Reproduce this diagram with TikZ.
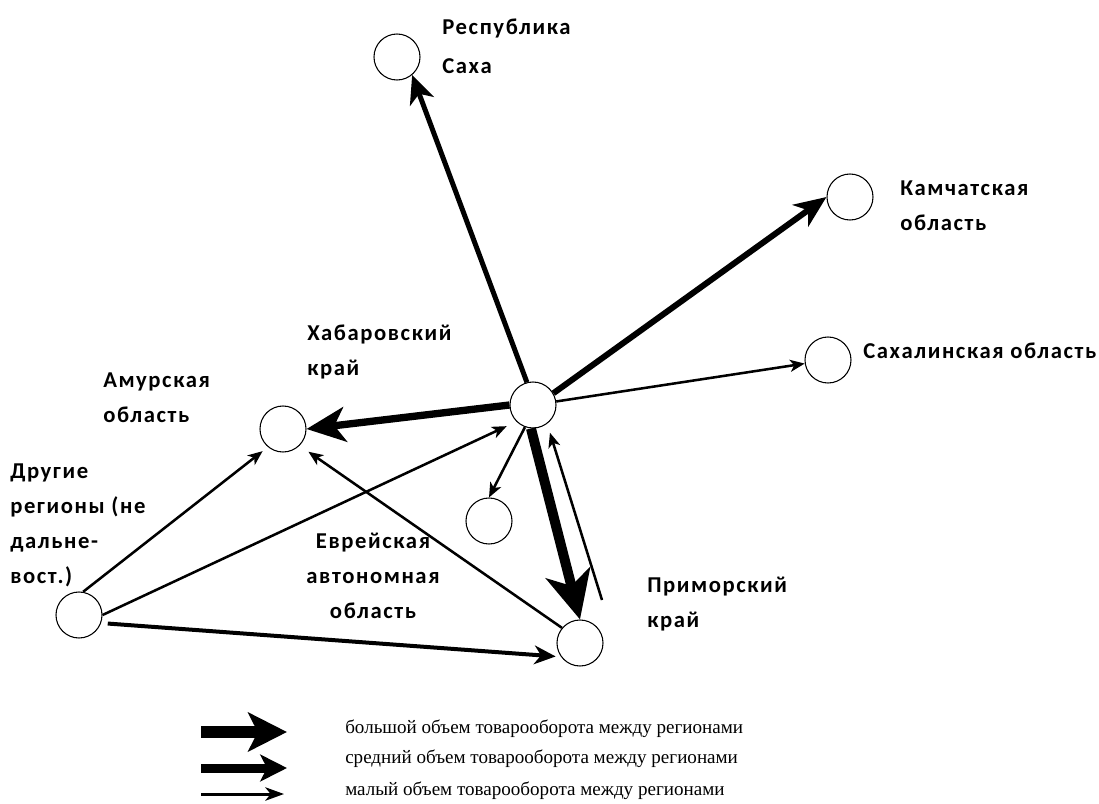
\documentclass[tikz,border=0pt]{standalone}
\usepackage{fontspec}
\setmainfont{Liberation Serif}
\newfontfamily\lblfont[LetterSpace=7]{Carlito}
\usetikzlibrary{arrows.meta,calc}
\begin{document}
\begin{tikzpicture}[x=0.75pt,y=-0.75pt,
  region/.style={circle,draw,line width=0.8pt,minimum size=34.5pt,inner sep=0pt},
  lbl/.style={font=\lblfont\bfseries\fontsize{17}{26.25}\selectfont,align=left,anchor=base west,inner sep=0pt},
  leg/.style={font=\fontsize{14.3}{20}\selectfont,anchor=base west,inner sep=0pt},
  smallflow/.style={line width=1.9pt,-{Stealth[length=11pt,width=9pt,inset=3pt]}},
  midflow/.style={line width=3pt,-{Stealth[length=16pt,width=14pt,inset=5pt]}},
  sahaflow/.style={line width=3.75pt,-{Stealth[length=21pt,width=19pt,inset=6pt]}},
  kamflow/.style={line width=4.5pt,-{Stealth[length=24pt,width=20pt,inset=7pt]}},
  amurflow/.style={line width=5.5pt,-{Stealth[length=29pt,width=26pt,inset=8pt]}},
  primflow/.style={line width=7.5pt,-{Stealth[length=36pt,width=34pt,inset=10pt]}},
  legbig/.style={line width=9pt,-{Stealth[length=29pt,width=29pt,inset=7pt]}},
  legmid/.style={line width=6.75pt,-{Stealth[length=20pt,width=20pt,inset=5pt]}},
  legsmall/.style={line width=2.25pt,-{Stealth[length=14pt,width=10pt,inset=4pt]}}
]
\useasboundingbox (0,0) rectangle (1099,803);
% regions
\node[region] (saha) at (397,57) {};
\node[region] (kam)  at (850,197) {};
\node[region] (sakh) at (828,360) {};
\node[region] (hub)  at (533,405) {};
\node[region] (amur) at (283,429) {};
\node[region] (evr)  at (489,521) {};
\node[region] (prim) at (580,643) {};
\node[region] (oth)  at (79,615) {};
% labels (base anchor = baseline of last line)
\node[lbl,font=\lblfont\bfseries\fontsize{17}{29.25}\selectfont] (lsaha) at (442,73) {Республика\\Саха};
\node[lbl] (lkam) at (900,230) {Камчатская\\область};
\node[lbl] (lsakh) at (863,358) {Сахалинская область};
\node[lbl] (lhub) at (307,375) {Хабаровский\\край};
\node[lbl] (lamur) at (103,422) {Амурская\\область};
\node[lbl] (loth) at (10,583) {Другие\\регионы (не\\дальне-\\вост.)};
\node[lbl,align=center,anchor=base] (levr) at (373,618) {Еврейская\\автономная\\область};
\node[lbl] (lprim) at (647,627) {Приморский\\край};
% flows
\draw[sahaflow] (hub.105) -- (saha.-50);
\draw[kamflow] (hub.30) -- (kam.west);
\draw[smallflow] (hub) -- (sakh);
\draw[amurflow] (hub.west) -- (amur.east);
\draw[smallflow] (hub.-110) -- (evr.north);
\draw[primflow] (hub.-95) -- (prim.north);
\draw[smallflow,shorten >=7pt] ($(prim)+(22,-43)$) -- (hub.-53);
\draw[smallflow,shorten >=8pt] (prim.140) -- (amur.-45);
\draw[smallflow,shorten >=5pt] (oth.80) -- (amur.-130);
\draw[smallflow,shorten >=8pt] (oth.east) -- (hub.-135);
\draw[midflow,shorten <=5pt,shorten >=4pt] (oth.-20) -- (prim.-144);
% legend
\coordinate (l1a) at (201,732); \coordinate (l1b) at (287,732);
\coordinate (l2a) at (201,768); \coordinate (l2b) at (287,768);
\coordinate (l3a) at (201,794); \coordinate (l3b) at (284,794);
\draw[legbig] (l1a) -- (l1b);
\draw[legmid] (l2a) -- (l2b);
\draw[legsmall] (l3a) -- (l3b);
\node[leg] (t1) at (345,733) {большой объем товарооборота между регионами};
\node[leg] (t2) at (345,763) {средний объем товарооборота между регионами};
\node[leg] (t3) at (345,795) {малый объем товарооборота между регионами};
\end{tikzpicture}
\end{document}
